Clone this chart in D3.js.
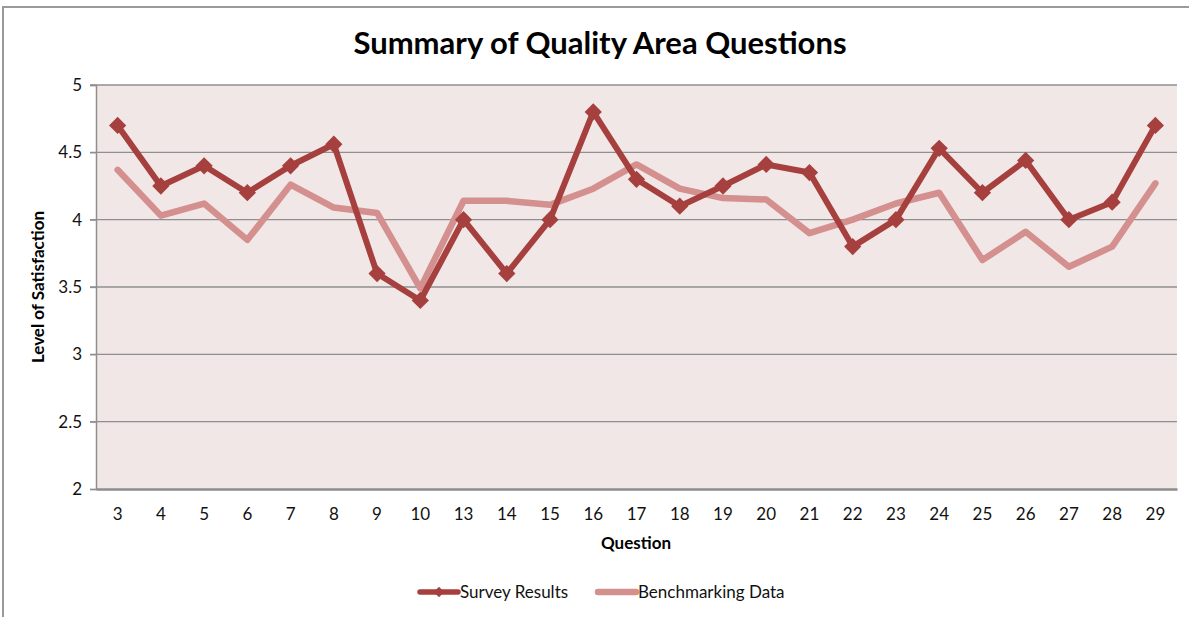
<!DOCTYPE html>
<html>
<head>
<meta charset="utf-8">
<title>Summary of Quality Area Questions</title>
<style>
body { margin: 0; background: #fff; font-family: Lato, "Open Sans", sans-serif; }
</style>
<script src="https://d3js.org/d3.v7.min.js"></script>
</head>
<body>
<script>
var questions = ["3","4","5","6","7","8","9","10","13","14","15","16","17","18","19","20","21","22","23","24","25","26","27","28","29"];
var survey = [4.70,4.25,4.40,4.20,4.40,4.56,3.60,3.40,4.00,3.60,4.00,4.80,4.30,4.10,4.25,4.41,4.35,3.80,4.00,4.53,4.20,4.44,4.00,4.13,4.70];
var benchmark = [4.37,4.03,4.12,3.85,4.26,4.09,4.05,3.49,4.14,4.14,4.11,4.23,4.41,4.23,4.16,4.15,3.90,4.00,4.12,4.20,3.70,3.91,3.65,3.80,4.27];
var yTicks = [2, 2.5, 3, 3.5, 4, 4.5, 5];

var W = 1189, H = 617;
var mLeft = 96, mRight = 1177, mTop = 85, mBottom = 489;
var surveyColor = "#a6403e", benchColor = "#d48f8f";

var svg = d3.select("body").append("svg")
    .attr("width", W)
    .attr("height", H);

// outer chart frame
svg.append("rect")
    .attr("x", 3).attr("y", 7)
    .attr("width", W + 10).attr("height", H + 10)
    .attr("fill", "#fff")
    .attr("stroke", "#9a9a9a")
    .attr("stroke-width", 2);

var x = d3.scaleBand().domain(questions).range([mLeft, mRight]);
var y = d3.scaleLinear().domain([2, 5]).range([mBottom, mTop]);

svg.append("rect")
    .attr("x", mLeft).attr("y", mTop)
    .attr("width", mRight - mLeft).attr("height", mBottom - mTop)
    .attr("fill", "#f2e7e7");

// gridlines
svg.append("g").selectAll("line")
    .data(yTicks.filter(function(d) { return d > 2; }))
    .enter().append("line")
    .attr("x1", mLeft - 6).attr("x2", mRight)
    .attr("y1", function(d) { return y(d); })
    .attr("y2", function(d) { return y(d); })
    .attr("stroke", "#8f8f8f")
    .attr("stroke-width", 1.3);

// y axis
var yAxis = svg.append("g")
    .attr("transform", "translate(" + mLeft + ",0)")
    .call(d3.axisLeft(y).tickValues(yTicks).tickSize(6).tickPadding(8).tickFormat(function(d) { return d; }));
yAxis.select(".domain").attr("stroke", "#8f8f8f").attr("stroke-width", 1.5);
yAxis.selectAll(".tick line").attr("stroke", "#8f8f8f").attr("stroke-width", 1.3);
yAxis.selectAll("text").attr("font-size", "17px").attr("fill", "#111")
    .attr("font-family", "Lato, sans-serif");

// x axis
var xAxis = svg.append("g")
    .attr("transform", "translate(0," + mBottom + ")")
    .call(d3.axisBottom(x).tickSize(0).tickPadding(19));
xAxis.select(".domain").attr("stroke", "#8c8c8c").attr("stroke-width", 2.5);
xAxis.selectAll("text").attr("font-size", "17px").attr("fill", "#111")
    .attr("font-family", "Lato, sans-serif");

function cx(d, i) { return x(questions[i]) + x.bandwidth() / 2; }

var line = d3.line()
    .x(function(d, i) { return cx(d, i); })
    .y(function(d) { return y(d); });

svg.append("path")
    .datum(benchmark)
    .attr("d", line)
    .attr("fill", "none")
    .attr("stroke", benchColor)
    .attr("stroke-width", 6.5)
    .attr("stroke-linejoin", "round")
    .attr("stroke-linecap", "round");

svg.append("path")
    .datum(survey)
    .attr("d", line)
    .attr("fill", "none")
    .attr("stroke", surveyColor)
    .attr("stroke-width", 6)
    .attr("stroke-linejoin", "round");

var diamond = d3.symbol().type(d3.symbolDiamond2).size(190);
svg.append("g").selectAll("path")
    .data(survey)
    .enter().append("path")
    .attr("d", diamond)
    .attr("transform", function(d, i) { return "translate(" + cx(d, i) + "," + y(d) + ")"; })
    .attr("fill", surveyColor);

// title and axis titles
svg.append("text")
    .attr("x", 600).attr("y", 54)
    .attr("text-anchor", "middle")
    .attr("font-size", "31px")
    .attr("font-weight", "bold")
    .attr("fill", "#000")
    .text("Summary of Quality Area Questions");

svg.append("text")
    .attr("x", 636).attr("y", 549)
    .attr("text-anchor", "middle")
    .attr("font-size", "17px")
    .attr("font-weight", "bold")
    .text("Question");

svg.append("text")
    .attr("transform", "translate(44,287) rotate(-90)")
    .attr("text-anchor", "middle")
    .attr("font-size", "17px")
    .attr("font-weight", "bold")
    .text("Level of Satisfaction");

// legend
var legendText = ["Survey Results", "Benchmarking Data"];
var legendX = [418, 596];
var legend = svg.append("g").selectAll("g")
    .data(legendText)
    .enter().append("g")
    .attr("transform", function(d, i) { return "translate(" + legendX[i] + ",592)"; });

legend.append("line")
    .attr("x1", 2).attr("x2", 40)
    .attr("stroke", function(d, i) { return i == 0 ? surveyColor : benchColor; })
    .attr("stroke-width", function(d, i) { return i == 0 ? 5.5 : 6.5; })
    .attr("stroke-linecap", "round");

legend.filter(function(d, i) { return i == 0; }).append("path")
    .attr("d", d3.symbol().type(d3.symbolDiamond2).size(70))
    .attr("transform", "translate(21,0)")
    .attr("fill", surveyColor);

legend.append("text")
    .attr("x", 42)
    .attr("dy", "0.35em")
    .attr("font-size", "17px")
    .attr("fill", "#111")
    .text(function(d) { return d; });
</script>
</body>
</html>
